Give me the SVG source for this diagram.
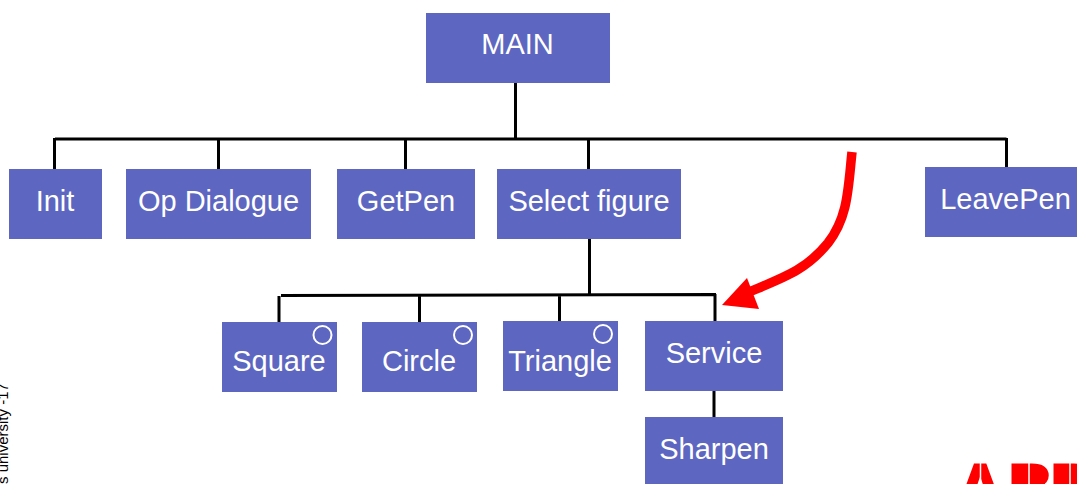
<svg xmlns="http://www.w3.org/2000/svg" width="1077" height="484" viewBox="0 0 1077 484">
<style>
.n{fill:#5d66c1}
.t{font-family:"Liberation Sans",Arial,sans-serif;font-size:29px;fill:#fff;text-anchor:middle}
.c{stroke:#000;stroke-width:3;fill:none}
.o{fill:none;stroke:#fff;stroke-width:2}
</style>
<rect width="1077" height="484" fill="#fff"/>
<g id="connectors">
<path class="c" d="M515.500 82V140M55 139H1006.500M54.500 138V169M218.500 138V169M405.500 138V169M588.500 138V169M1006.500 138V167"/>
<path class="c" d="M589.500 238V295M281 295.500L716 294.500M279 296V322M419.500 295V322M559.500 295V321M715 294V321M714 390V417"/>
<path d="M852 152C848 190 848 217 828 243C806 270 785 277 749 292" fill="none" stroke="#f00" stroke-width="9.500"/>
<path d="M722 305L747 278L759 309Z" fill="#f00"/>
</g>
<g id="main"><rect class="n" x="426" y="13" width="184" height="70"/><text class="t" x="517.500" y="54">MAIN</text></g>
<g id="init"><rect class="n" x="9" y="169" width="93" height="70"/><text class="t" x="55" y="211">Init</text></g>
<g id="op-dialogue"><rect class="n" x="126" y="169" width="185" height="70"/><text class="t" x="218.500" y="211">Op Dialogue</text></g>
<g id="getpen"><rect class="n" x="337" y="169" width="138" height="70"/><text class="t" x="406" y="211">GetPen</text></g>
<g id="select-figure"><rect class="n" x="497" y="169" width="184" height="70"/><text class="t" x="589" y="211">Select figure</text></g>
<g id="leavepen"><rect class="n" x="925" y="167" width="152" height="70"/><text class="t" x="1005.500" y="209">LeavePen</text></g>
<g id="square"><rect class="n" x="222" y="322" width="115" height="70"/><text class="t" x="279" y="371">Square</text><circle class="o" cx="322.500" cy="335" r="9"/></g>
<g id="circle"><rect class="n" x="362" y="322" width="115" height="70"/><text class="t" x="419" y="371">Circle</text><circle class="o" cx="463" cy="335" r="9"/></g>
<g id="triangle"><rect class="n" x="503" y="321" width="115" height="70"/><text class="t" x="560" y="371">Triangle</text><circle class="o" cx="603" cy="334" r="9"/></g>
<g id="service"><rect class="n" x="645" y="321" width="138" height="70"/><text class="t" x="714" y="363">Service</text></g>
<g id="sharpen"><rect class="n" x="645" y="417" width="138" height="70"/><text class="t" x="714" y="459">Sharpen</text></g>
<text transform="translate(8 484) rotate(-90)" font-family="Liberation Sans,Arial,sans-serif" font-size="15" fill="#000">s university -17</text>
<g id="logo">
<path d="M1016 467H1045V484H1016ZM1058 467H1077V484H1058Z" fill="#f00"/>
<text y="506" x="958.500 1009 1051" font-family="Liberation Sans,Arial,sans-serif" font-weight="700" font-size="60" fill="#f00" stroke="#f00" stroke-width="3">ABB</text>
<path d="M980.500 461V486M1029 461V486M1070 461V486" stroke="#fff" stroke-width="1.500" fill="none"/>
</g>
</svg>
